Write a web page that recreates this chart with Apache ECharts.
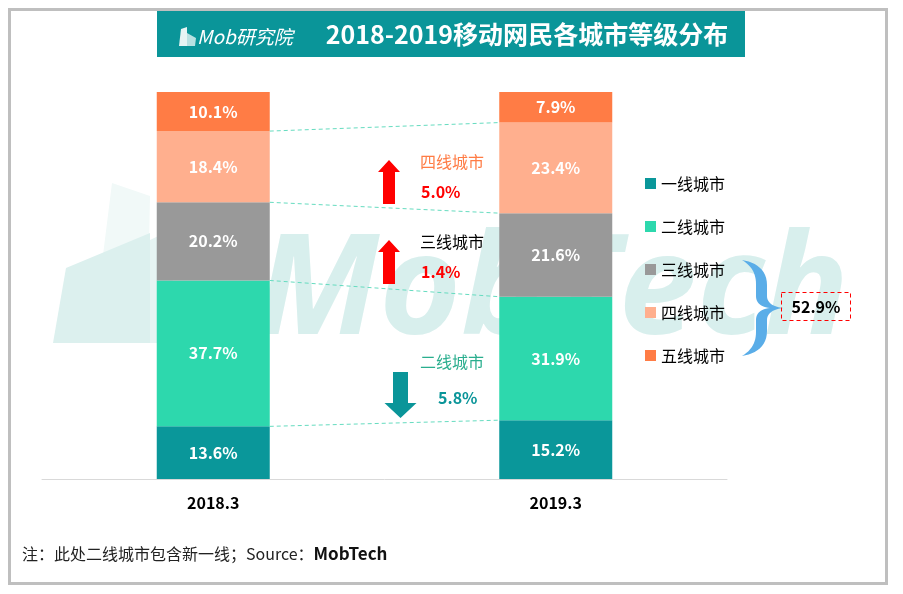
<!DOCTYPE html>
<html><head><meta charset="utf-8">
<script src="https://cdn.jsdelivr.net/npm/echarts@6/dist/echarts.min.js"></script>
<style>html,body{margin:0;padding:0;background:#fff}#c{width:903px;height:594px}</style>
</head><body><div id="c"></div>
<script>
const categories = ['2018.3', '2019.3'];
const tierNames = ['一线城市', '二线城市', '三线城市', '四线城市', '五线城市'];
const tier1 = [13.6, 15.2];
const tier2 = [37.7, 31.9];
const tier3 = [20.2, 21.6];
const tier4 = [18.4, 23.4];
const tier5 = [10.1, 7.9];
const tierColors = ['#0a979a', '#2dd8ad', '#999999', '#ffaf8e', '#ff7c45'];
const titleText = '2018-2019移动网民各城市等级分布';
const footNote = '注：此处二线城市包含新一线；Source：';
const footSource = 'MobTech';

const FONT = '"Noto Sans CJK SC", "Noto Sans", sans-serif';
const BAR_W = 113;
const tiers = [tier1, tier2, tier3, tier4, tier5];

// cumulative boundaries between segments
const boundaries = [];
let c0 = 0, c1 = 0;
for (let i = 0; i < tiers.length - 1; i++) {
  c0 += tiers[i][0]; c1 += tiers[i][1];
  boundaries.push([0, c0, c1]);
}
const d4 = (tier4[1] - tier4[0]).toFixed(1) + '%';
const d3 = (tier3[1] - tier3[0]).toFixed(1) + '%';
const d2 = (tier2[0] - tier2[1]).toFixed(1) + '%';
const lowerTierShare = (tier3[1] + tier4[1] + tier5[1]).toFixed(1) + '%';

const barSeries = tiers.map((arr, i) => ({
  name: tierNames[i],
  type: 'bar',
  stack: 'total',
  barWidth: BAR_W,
  data: arr,
  itemStyle: { color: tierColors[i] },
  label: {
    show: true, position: 'inside', color: '#fff', fontWeight: 'bold',
    fontSize: 16, fontFamily: FONT, formatter: p => p.value.toFixed(1) + '%'
  },
  emphasis: { disabled: true }
}));

const lineSeries = {
  type: 'custom',
  silent: true,
  z: 5,
  encode: { x: 0, y: 1 },
  data: boundaries,
  renderItem: function (params, api) {
    const a = api.coord([0, api.value(1)]);
    const b = api.coord([1, api.value(2)]);
    const hw = BAR_W / 2;
    return {
      type: 'line',
      shape: { x1: a[0] + hw, y1: a[1], x2: b[0] - hw, y2: b[1] },
      style: { stroke: '#66dcc0', lineWidth: 1, lineDash: [4, 3] }
    };
  }
};

function upArrow(x, top, bottom, color) {
  return {
    type: 'polygon', z: 100,
    shape: { points: [[x, top], [x + 11, top + 12], [x + 6, top + 12], [x + 6, bottom], [x - 6, bottom], [x - 6, top + 12], [x - 11, top + 12]] },
    style: { fill: color }
  };
}
function downArrow(x, top, bottom, color) {
  return {
    type: 'polygon', z: 100,
    shape: { points: [[x - 7.5, top], [x + 7.5, top], [x + 7.5, bottom - 15], [x + 16, bottom - 15], [x, bottom], [x - 16, bottom - 15], [x - 7.5, bottom - 15]] },
    style: { fill: color }
  };
}
function txt(x, y, text, fill, size, weight, align) {
  return {
    type: 'text', z: 100, x: x, y: y,
    style: { text: text, fill: fill, fontSize: size, fontWeight: weight || 'normal', fontFamily: FONT, align: align || 'left', verticalAlign: 'middle' }
  };
}
// curly brace outline sampled from cubic curves
function bez(p0, p1, p2, p3, n) {
  const out = [];
  for (let i = 1; i <= n; i++) {
    const t = i / n, u = 1 - t;
    out.push([
      u * u * u * p0[0] + 3 * u * u * t * p1[0] + 3 * u * t * t * p2[0] + t * t * t * p3[0],
      u * u * u * p0[1] + 3 * u * u * t * p1[1] + 3 * u * t * t * p2[1] + t * t * t * p3[1]
    ]);
  }
  return out;
}
function bracePoints() {
  let pts = [[742, 260]];
  const seg = (c1, c2, e) => { pts = pts.concat(bez(pts[pts.length - 1], c1, c2, e, 12)); };
  const lin = e => { pts.push(e); };
  seg([756, 262], [767, 270], [767, 285]);
  lin([767, 296]);
  seg([767, 302], [772, 307], [784, 308]);
  seg([772, 309], [767, 314], [767, 320]);
  lin([767, 331]);
  seg([767, 346], [756, 354], [742, 356]);
  seg([752, 350], [756, 342], [756, 332]);
  lin([756, 320]);
  seg([756, 313], [761, 309], [770, 308]);
  seg([761, 307], [756, 303], [756, 296]);
  lin([756, 284]);
  seg([756, 274], [752, 266], [742, 260]);
  return pts;
}

const graphics = [
  // outer frame
  { type: 'rect', z: -20, shape: { x: 9.5, y: 9.5, width: 877, height: 574 }, style: { fill: 'none', stroke: '#bfbfbf', lineWidth: 3 } },
  // watermark
  { type: 'polygon', z: -10, shape: { points: [[112, 183], [150, 196], [147, 343], [92, 343]] }, style: { fill: '#f1f9f8' } },
  { type: 'polygon', z: -10, shape: { points: [[53, 343], [66, 268], [150, 233], [150, 343]] }, style: { fill: '#dcf0ee' } },
  { type: 'polygon', z: -10, shape: { points: [[150, 240], [175, 228], [170, 343], [150, 343]] }, style: { fill: '#e6f4f3' } },
  { type: 'text', z: -10, x: 256, y: 364, style: { text: 'MobTech', fill: '#d8efed', fontSize: 140, fontWeight: 'bold', fontStyle: 'italic', fontFamily: '"Open Sans", sans-serif', verticalAlign: 'bottom' } },
  // title banner
  { type: 'rect', z: 50, shape: { x: 157, y: 11, width: 588, height: 46 }, style: { fill: '#0a9599' } },
  { type: 'polygon', z: 51, shape: { points: [[179, 46], [181, 29], [187, 27], [187, 46]] }, style: { fill: '#e6f4f4' } },
  { type: 'polygon', z: 51, shape: { points: [[187, 46], [187, 33], [196, 38], [195, 46]] }, style: { fill: '#b8e1e2' } },
  { type: 'text', z: 51, x: 197, y: 37, style: { text: 'Mob研究院', fill: '#fff', fontSize: 19, fontStyle: 'italic', fontFamily: FONT, verticalAlign: 'middle' } },
  { type: 'text', z: 51, x: 527, y: 34, style: { text: titleText, fill: '#fff', fontSize: 25, fontWeight: 'bold', fontFamily: FONT, align: 'center', verticalAlign: 'middle' } },
  // change annotations
  upArrow(389, 160, 204, '#ff0000'),
  upArrow(389, 240, 284, '#ff0000'),
  downArrow(400.5, 372, 418, '#0a9599'),
  txt(420, 162, tierNames[3], '#ff7c45', 16),
  txt(421, 192, d4, '#ff0000', 16, 'bold'),
  txt(420, 242, tierNames[2], '#000', 16),
  txt(421, 272, d3, '#ff0000', 16, 'bold'),
  txt(420, 362, tierNames[1], '#2aae8e', 16),
  txt(438, 398, d2, '#0a9599', 16, 'bold'),
  // brace
  { type: 'polygon', z: 100, shape: { points: bracePoints() }, style: { fill: '#5aade8' } },
  { type: 'rect', z: 100, shape: { x: 781.5, y: 292.5, width: 69, height: 28 }, style: { fill: 'none', stroke: '#ff0000', lineWidth: 1, lineDash: [4, 3] } },
  txt(816, 307, lowerTierShare, '#000', 16, 'bold', 'center'),
  // footer
  { type: 'text', z: 100, x: 22, y: 554, style: { rich: { a: { fontSize: 16, fill: '#222', fontFamily: FONT }, b: { fontSize: 17, fill: '#111', fontWeight: 'bold', fontFamily: FONT } }, text: '{a|' + footNote + '}{b|' + footSource + '}', verticalAlign: 'middle' } }
];

const chart = echarts.init(document.getElementById('c'), null, { renderer: 'canvas' });
chart.setOption({
  animation: false,
  backgroundColor: '#fff',
  grid: { left: 42, right: 176, top: 92, bottom: 115, containLabel: false },
  xAxis: {
    type: 'category', data: categories,
    axisLine: { lineStyle: { color: '#d9d9d9', width: 1 } },
    axisTick: { show: false },
    axisLabel: { color: '#000', fontWeight: 'bold', fontSize: 16, fontFamily: FONT, margin: 16 }
  },
  yAxis: { type: 'value', min: 0, max: 100, show: false, splitLine: { show: false } },
  legend: {
    orient: 'vertical', left: 645, top: 175, itemGap: 26, padding: 0,
    icon: 'rect', itemWidth: 11, itemHeight: 11, itemStyle: { borderWidth: 0 }, selectedMode: false,
    data: tierNames,
    textStyle: { color: '#000', fontSize: 16, fontFamily: FONT, lineHeight: 17 }
  },
  graphic: graphics,
  series: barSeries.concat([lineSeries])
});
</script></body></html>
